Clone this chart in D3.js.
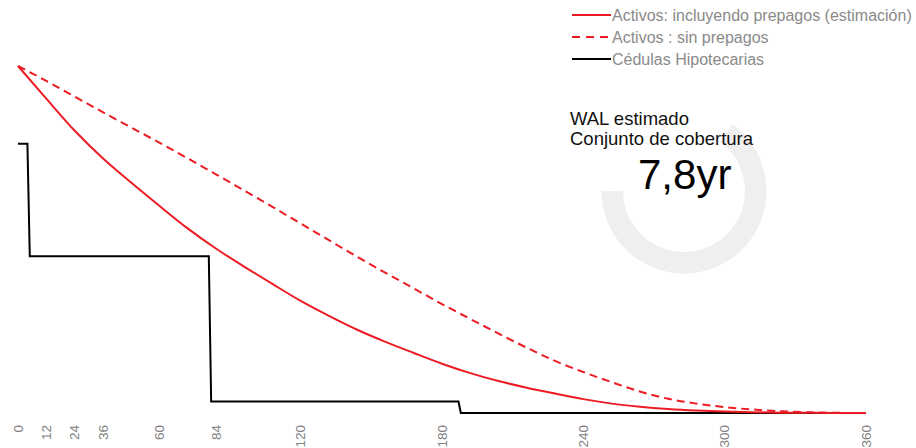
<!DOCTYPE html>
<html>
<head>
<meta charset="utf-8">
<script src="https://cdn.jsdelivr.net/npm/d3@7"></script>
<style>
  html, body { margin: 0; padding: 0; background: #fff; }
  svg { display: block; font-family: "Liberation Sans", Arial, sans-serif; }
</style>
</head>
<body>
<svg id="chart" width="916" height="448"></svg>
<script>
// ---- Data ----
const months = [0,12,24,36,48,60,72,84,96,108,120,132,144,156,168,180,192,204,216,228,240,252,264,276,288,300,312,324,336,348,360];
const activosConPrepagos = [100,90.6,81.4,73.4,66.4,59.7,53.2,47.4,42.2,37.2,32.3,28.0,24.0,20.5,17.3,14.2,11.5,9.2,7.3,5.6,4.0,2.7,1.8,1.15,0.7,0.4,0.22,0.1,0.05,0.02,0];
const activosSinPrepagos = [100,95.7,91.2,86.7,82.3,77.9,73.4,68.8,64.1,59.4,54.6,49.8,45.0,40.4,35.9,31.4,27.1,22.9,18.8,15.0,11.8,8.9,6.2,4.1,2.7,1.7,1.0,0.5,0.2,0.05,0];
const cedulasMonths = [0,4,5,81,82,187,188,360];
const cedulasValues = [77.6,77.6,45.2,45.2,3.3,3.3,0,0];
const tickMonths = [0,12,24,36,60,84,120,180,240,300,360];
const legendLabels = ["Activos: incluyendo prepagos (estimación)", "Activos : sin prepagos", "Cédulas Hipotecarias"];
const walTitle = ["WAL estimado", "Conjunto de cobertura"];
const walYears = 7.8;
const walMaxYears = 12;
const walLabel = "7,8yr";

// ---- Layout ----
const svg = d3.select("#chart");
const RED = "#ed1c24";
const x = d3.scaleLinear().domain([0, 360]).range([18, 866]);
const y = d3.scaleLinear().domain([0, 100]).range([413, 66]);

// Donut (WAL gauge)
const cx = 684, cy = 191;
const gaugeEnd = Math.PI * 1.5;
const gaugeStart = gaugeEnd - 2 * Math.PI * (walYears / walMaxYears);
const arc = d3.arc().innerRadius(61).outerRadius(82.5).startAngle(gaugeStart).endAngle(gaugeEnd);
svg.append("path").attr("transform", `translate(${cx},${cy})`).attr("d", arc()).attr("fill", "#efefef");

// Series
const lineCurve = d3.line().x(d => x(d[0])).y(d => y(d[1])).curve(d3.curveMonotoneX);
const lineStep = d3.line().x(d => x(d[0])).y(d => y(d[1]));

svg.append("path")
  .attr("d", lineCurve(months.map((m, i) => [m, activosSinPrepagos[i]])))
  .attr("fill", "none").attr("stroke", RED).attr("stroke-width", 2)
  .attr("stroke-dasharray", "8,5");

svg.append("path")
  .attr("d", lineStep(cedulasMonths.map((m, i) => [m, cedulasValues[i]])))
  .attr("fill", "none").attr("stroke", "#000").attr("stroke-width", 2)
  .attr("stroke-linejoin", "miter");

svg.append("path")
  .attr("d", lineCurve(months.map((m, i) => [m, activosConPrepagos[i]])))
  .attr("fill", "none").attr("stroke", RED).attr("stroke-width", 2);

// X tick labels (rotated)
const axis = svg.append("g").attr("class", "x-axis");
axis.selectAll("text").data(tickMonths).join("text")
  .attr("transform", d => `translate(${x(d)},425) rotate(-90)`)
  .attr("text-anchor", "end")
  .attr("dy", "0.35em")
  .attr("font-size", "13.5px")
  .attr("fill", "#808080")
  .text(d => d);

// Legend
const legend = svg.append("g").attr("class", "legend");
const legendStyles = [
  { color: RED, dash: null },
  { color: RED, dash: "8,6" },
  { color: "#000", dash: null }
];
legendLabels.forEach((lab, i) => {
  const yy = 15 + i * 22;
  legend.append("line").attr("x1", 572).attr("x2", 611).attr("y1", yy).attr("y2", yy)
    .attr("stroke", legendStyles[i].color).attr("stroke-width", 2)
    .attr("stroke-dasharray", legendStyles[i].dash);
  legend.append("text").attr("x", 612).attr("y", yy + 6)
    .attr("font-size", "16px").attr("fill", "#8a8a8a").text(lab);
});

// WAL text
walTitle.forEach((t, i) => {
  svg.append("text").attr("x", 570).attr("y", 125 + i * 19.5)
    .attr("font-size", "18.5px").attr("fill", "#111").text(t);
});
svg.append("text").attr("x", 638).attr("y", 188.5)
  .attr("font-size", "42px").attr("fill", "#000").text(walLabel);
</script>
</body>
</html>
